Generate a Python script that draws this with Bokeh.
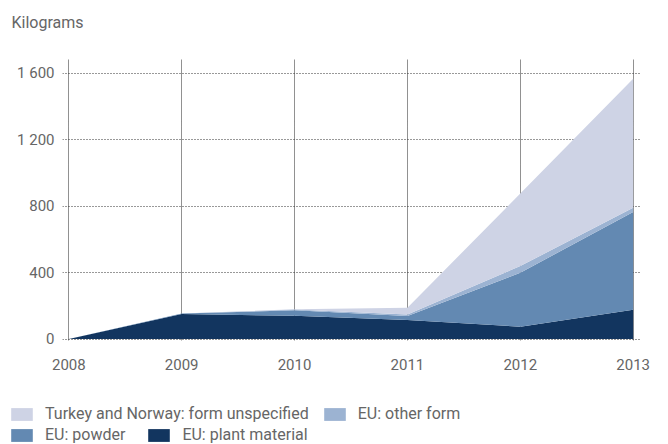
from bokeh.plotting import figure
from bokeh.layouts import column
from bokeh.models import ColumnDataSource, FixedTicker, Legend, LegendItem, Range1d
from bokeh.embed import file_html
from bokeh.resources import INLINE

years = [2008, 2009, 2010, 2011, 2012, 2013]
plant_material = [0, 150, 140, 115, 74, 176]
powder = [0, 3, 33, 23, 325, 588]
other_form = [0, 0, 4, 10, 40, 26]
turkey_norway = [0, 0, 2, 40, 436, 776]
y_ticks = [0, 400, 800, 1200, 1600]
y_tick_labels = ["0", "400", "800", "1 200", "1 600"]
series_names = ["EU: plant material", "EU: powder", "EU: other form",
                "Turkey and Norway: form unspecified"]
colors = ["#12355f", "#6389b2", "#9cb3d2", "#ced3e5"]

FONT = "Roboto"
TXT = "#666666"
W = 660

source = ColumnDataSource(dict(year=years, plant=plant_material, powder=powder,
                               other=other_form, turkey=turkey_norway))

# title strip
p0 = figure(width=W, height=59, output_backend="svg", toolbar_location=None,
            x_range=Range1d(0, 1), y_range=Range1d(0, 1), min_border=0,
            x_axis_location=None, y_axis_location=None)
p0.frame_align = False
p0.grid.visible = False
p0.outline_line_color = None
p0.title.text = "Kilograms"
p0.title.align = "left"
p0.title.offset = 11
p0.title.standoff = 20
p0.title.text_font = FONT
p0.title.text_font_size = "16px"
p0.title.text_font_style = "normal"
p0.title.text_color = TXT

# main chart
p = figure(width=W, height=329, output_backend="svg", toolbar_location=None,
           x_range=Range1d(2007.944, 2013.065), y_range=Range1d(-9, 1682),
           min_border_left=62, min_border_right=W - 640, min_border_top=0,
           min_border_bottom=48)
p.frame_align = False

rs = p.varea_stack(["plant", "powder", "other", "turkey"], x="year",
                   color=colors, source=source)

p.outline_line_color = None
p.xaxis.ticker = FixedTicker(ticks=years)
p.yaxis.ticker = FixedTicker(ticks=y_ticks)
p.yaxis.major_label_overrides = dict(zip(y_ticks, y_tick_labels))
for ax in (p.xaxis, p.yaxis):
    ax.axis_line_color = None
    ax.major_tick_line_color = None
    ax.minor_tick_line_color = None
    ax.major_tick_out = 0
    ax.major_tick_in = 0
    ax.major_label_text_font = FONT
    ax.major_label_text_font_size = "15px"
    ax.major_label_text_color = TXT
p.xaxis.major_label_standoff = 18
p.yaxis.major_label_standoff = 8

p.xgrid.ticker = FixedTicker(ticks=years)
p.ygrid.ticker = FixedTicker(ticks=y_ticks)
p.xgrid.grid_line_dash = "1 1"
p.xgrid.grid_line_color = "#222222"
p.ygrid.grid_line_dash = "1 2"
p.ygrid.grid_line_color = "#333333"

# legend strip below the chart (proxy areas of zero height, outside its range)
p2 = figure(width=W, height=56, output_backend="svg", toolbar_location=None,
            x_range=Range1d(0, 1), y_range=Range1d(0, 1), min_border=0,
            x_axis_location=None, y_axis_location=None)
p2.frame_align = False
p2.grid.visible = False
p2.outline_line_color = None
proxies = [p2.varea(x="year", y1=0, y2=0, color=c, source=source) for c in colors]

legend_kw = dict(orientation="horizontal", glyph_width=27, glyph_height=16,
                 label_height=16, label_standoff=10, padding=0,
                 margin=0, border_line_color=None, background_fill_alpha=0,
                 label_text_font=FONT, label_text_font_size="16px",
                 label_text_color=TXT)
leg1 = Legend(items=[LegendItem(label=series_names[3], renderers=[proxies[3]]),
                     LegendItem(label=series_names[2], renderers=[proxies[2]])],
              location=(8, 21), spacing=12, **legend_kw)
leg2 = Legend(items=[LegendItem(label=series_names[1], renderers=[proxies[1]]),
                     LegendItem(label=series_names[0], renderers=[proxies[0]])],
              location=(8, 0), spacing=20, **legend_kw)
p2.add_layout(leg1)
p2.add_layout(leg2)

layout = column(p0, p, p2, spacing=0)
open("out.html", "w").write(file_html(layout, INLINE))
